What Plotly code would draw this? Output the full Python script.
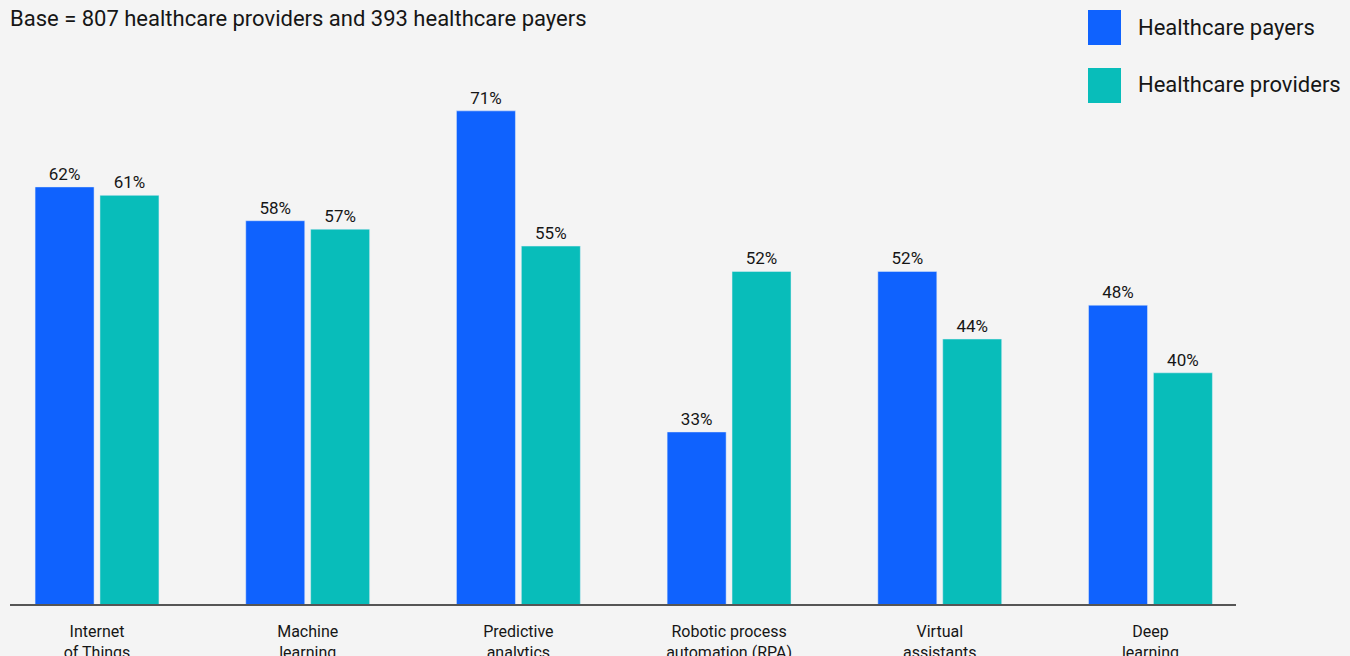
import plotly.graph_objects as go

categories = ["Internet<br>of Things", "Machine<br>learning", "Predictive<br>analytics",
              "Robotic process<br>automation (RPA)", "Virtual<br>assistants", "Deep<br>learning"]
payers = [62, 58, 71, 33, 52, 48]
providers = [61, 57, 55, 52, 44, 40]
series_names = ["Healthcare payers", "Healthcare providers"]
colors = ["#0f62fe", "#08bdba"]

W, H = 1350, 656
L, R, T, B = 10, 114, 60, 52
pw, ph = W - L - R, H - T - B

def px_x(x):
    return (x - L) / pw

def px_y(y):
    return (H - B - y) / ph

xpos = list(range(len(categories)))
font_family = "Roboto, Inter, Arial, sans-serif"

fig = go.Figure()
fig.add_trace(go.Bar(
    x=xpos, y=payers, name=series_names[0], marker_color=colors[0],
    width=0.28, offset=-0.294,
    text=[f"{v}%" for v in payers], textposition="outside",
    textfont=dict(size=17, color="#161616", family=font_family),
    cliponaxis=False, showlegend=False, constraintext="none",
))
fig.add_trace(go.Bar(
    x=xpos, y=providers, name=series_names[1], marker_color=colors[1],
    width=0.28, offset=0.014,
    text=[f"{v}%" for v in providers], textposition="outside",
    textfont=dict(size=17, color="#161616", family=font_family),
    cliponaxis=False, showlegend=False, constraintext="none",
))

shapes = []
annotations = []
for i, (name, c) in enumerate(zip(series_names, colors)):
    y0 = 10 + i * 58
    shapes.append(dict(type="rect", xref="paper", yref="paper",
                       x0=px_x(1088), x1=px_x(1121), y0=px_y(y0 + 35), y1=px_y(y0),
                       fillcolor=c, line=dict(width=0)))
    annotations.append(dict(xref="paper", yref="paper", x=px_x(1136), y=px_y(y0 + 17),
                            xanchor="left", yanchor="middle", showarrow=False,
                            text=name, font=dict(size=22, color="#161616", family=font_family)))

fig.update_layout(
    width=W, height=H,
    margin=dict(l=L, r=R, t=T, b=B, autoexpand=False),
    paper_bgcolor="#f4f4f4", plot_bgcolor="#f4f4f4",
    font=dict(family=font_family, color="#161616"),
    title=dict(text="Base = 807 healthcare providers and 393 healthcare payers",
               x=L / W, xanchor="left", xref="container",
               y=1 - 18 / H, yanchor="middle", yref="container",
               font=dict(size=22, color="#161616", family=font_family)),
    xaxis=dict(range=[-0.413, 5.406], tickvals=xpos, ticktext=categories,
               showgrid=False, zeroline=False, showline=True, linecolor="#555555", linewidth=2,
               ticks="outside", ticklen=12, tickcolor="rgba(0,0,0,0)", automargin=False,
               tickfont=dict(size=16, color="#161616", family=font_family)),
    yaxis=dict(range=[12.64, 77.02], visible=False, showgrid=False, zeroline=False,
               automargin=False),
    shapes=shapes, annotations=annotations,
)

fig.write_html("out.html", config={"displayModeBar": False},
               post_script="document.body.style.margin='0';document.body.style.background='#f4f4f4';")
